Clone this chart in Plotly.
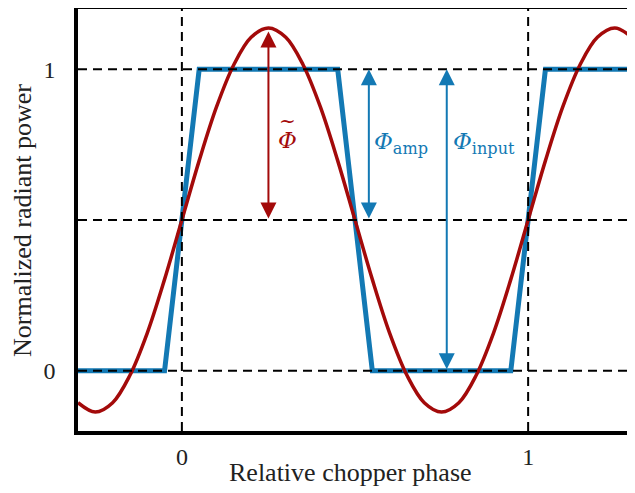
import plotly.graph_objects as go

# Relative chopper phase samples and the fundamental (sine) of the signal
phase = [-0.30, -0.25, -0.20, -0.15, -0.10, -0.05, 0.00, 0.05, 0.10, 0.15, 0.20,
         0.25, 0.30, 0.35, 0.40, 0.45, 0.50, 0.55, 0.60, 0.65, 0.70, 0.75, 0.80,
         0.85, 0.90, 0.95, 1.00, 1.05, 1.10, 1.15, 1.20, 1.25, 1.30]
fundamental = [-0.106, -0.137, -0.106, -0.015, 0.125, 0.303, 0.500, 0.697, 0.875,
               1.015, 1.106, 1.137, 1.106, 1.015, 0.875, 0.697, 0.500, 0.303,
               0.125, -0.015, -0.106, -0.137, -0.106, -0.015, 0.125, 0.303, 0.500,
               0.697, 0.875, 1.015, 1.106, 1.137, 1.106]

# Trapezoidal chopped input signal
trap_phase = [-0.30, -0.05, 0.05, 0.45, 0.55, 0.95, 1.05, 1.30]
trap_power = [0, 0, 1, 1, 0, 0, 1, 1]

x_ticks = [0, 1]
x_ticklabels = ["0", "1"]
y_ticks = [0, 1]
y_ticklabels = ["0", "1"]
h_ref = [0, 0.5, 1]
v_ref = [0, 1]

# arrows: (x, y_top, y_bottom)
arrow_tilde = (0.25, 1.125, 0.5)
arrow_amp = (0.54, 1.0, 0.5)
arrow_input = (0.765, 1.0, 0.0)

BLUE = "#1379b4"
RED = "#a30a0a"
SERIF = "Liberation Serif"
MATH = "DejaVu Serif"

fig = go.Figure()
fig.add_trace(go.Scatter(x=trap_phase, y=trap_power, mode="lines",
                         line=dict(color=BLUE, width=5), showlegend=False))
fig.add_trace(go.Scatter(x=phase, y=fundamental, mode="lines",
                         line=dict(color=RED, width=3.5, shape="spline"),
                         showlegend=False))

for yv in h_ref:
    fig.add_shape(type="line", xref="paper", yref="y", x0=0, x1=1, y0=yv, y1=yv,
                  line=dict(color="black", width=2, dash="9px,6px"), layer="above")
for xv in v_ref:
    fig.add_shape(type="line", xref="x", yref="paper", x0=xv, x1=xv, y0=0, y1=1,
                  line=dict(color="black", width=2, dash="9px,6px"), layer="above")

def add_arrow(a, color):
    x, yt, yb = a
    fig.add_annotation(x=x, y=yt, ax=x, ay=yb, xref="x", yref="y", axref="x",
                       ayref="y", text="", showarrow=True, arrowside="end+start",
                       arrowhead=2, startarrowhead=2, arrowsize=1.6,
                       startarrowsize=1.6, arrowwidth=2, arrowcolor=color,
                       standoff=0, startstandoff=0)

add_arrow(arrow_tilde, RED)
add_arrow(arrow_amp, BLUE)
add_arrow(arrow_input, BLUE)

fig.add_annotation(x=0.304, y=0.765, xref="x", yref="y", text="<i>Φ</i>",
                   showarrow=False, font=dict(family=MATH, size=23, color=RED))
fig.add_annotation(x=0.304, y=0.83, xref="x", yref="y", text="~",
                   showarrow=False, font=dict(family=MATH, size=20, color=RED))
fig.add_annotation(x=0.549, y=0.755, xref="x", yref="y", xanchor="left",
                   text="<i>Φ</i><sub>amp</sub>", showarrow=False,
                   font=dict(family=MATH, size=23, color=BLUE))
fig.add_annotation(x=0.776, y=0.755, xref="x", yref="y", xanchor="left",
                   text="<i>Φ</i><sub>input</sub>", showarrow=False,
                   font=dict(family=MATH, size=23, color=BLUE))

# axis titles
fig.add_annotation(x=0.491, y=-0.099, xref="paper", yref="paper",
                   text="Relative chopper phase", showarrow=False,
                   xanchor="center", yanchor="middle",
                   font=dict(family=SERIF, size=26, color="#222"))
fig.add_annotation(x=-0.099, y=0.498, xref="paper", yref="paper",
                   text="Normalized radiant power", showarrow=False, textangle=-90,
                   xanchor="center", yanchor="middle",
                   font=dict(family=SERIF, size=26, color="#222"))

fig.update_layout(
    width=627, height=485,
    margin=dict(l=70, r=3, t=1, b=62, autoexpand=False),
    plot_bgcolor="white", paper_bgcolor="white",
    font=dict(family=SERIF, size=24, color="#222"),
    xaxis=dict(range=[-0.3, 1.3], tickvals=x_ticks, ticktext=x_ticklabels,
               showgrid=False, zeroline=False, showline=True, mirror=True,
               linecolor="black", linewidth=3.5, ticks="outside", ticklen=1,
               tickcolor="rgba(0,0,0,0)", automargin=False),
    yaxis=dict(range=[-0.2, 1.2], tickvals=y_ticks, ticktext=y_ticklabels,
               showgrid=False, zeroline=False, showline=True, mirror=True,
               linecolor="black", linewidth=3.5, ticks="outside", ticklen=14,
               tickcolor="rgba(0,0,0,0)", automargin=False),
)

fig.write_html("out.html")
